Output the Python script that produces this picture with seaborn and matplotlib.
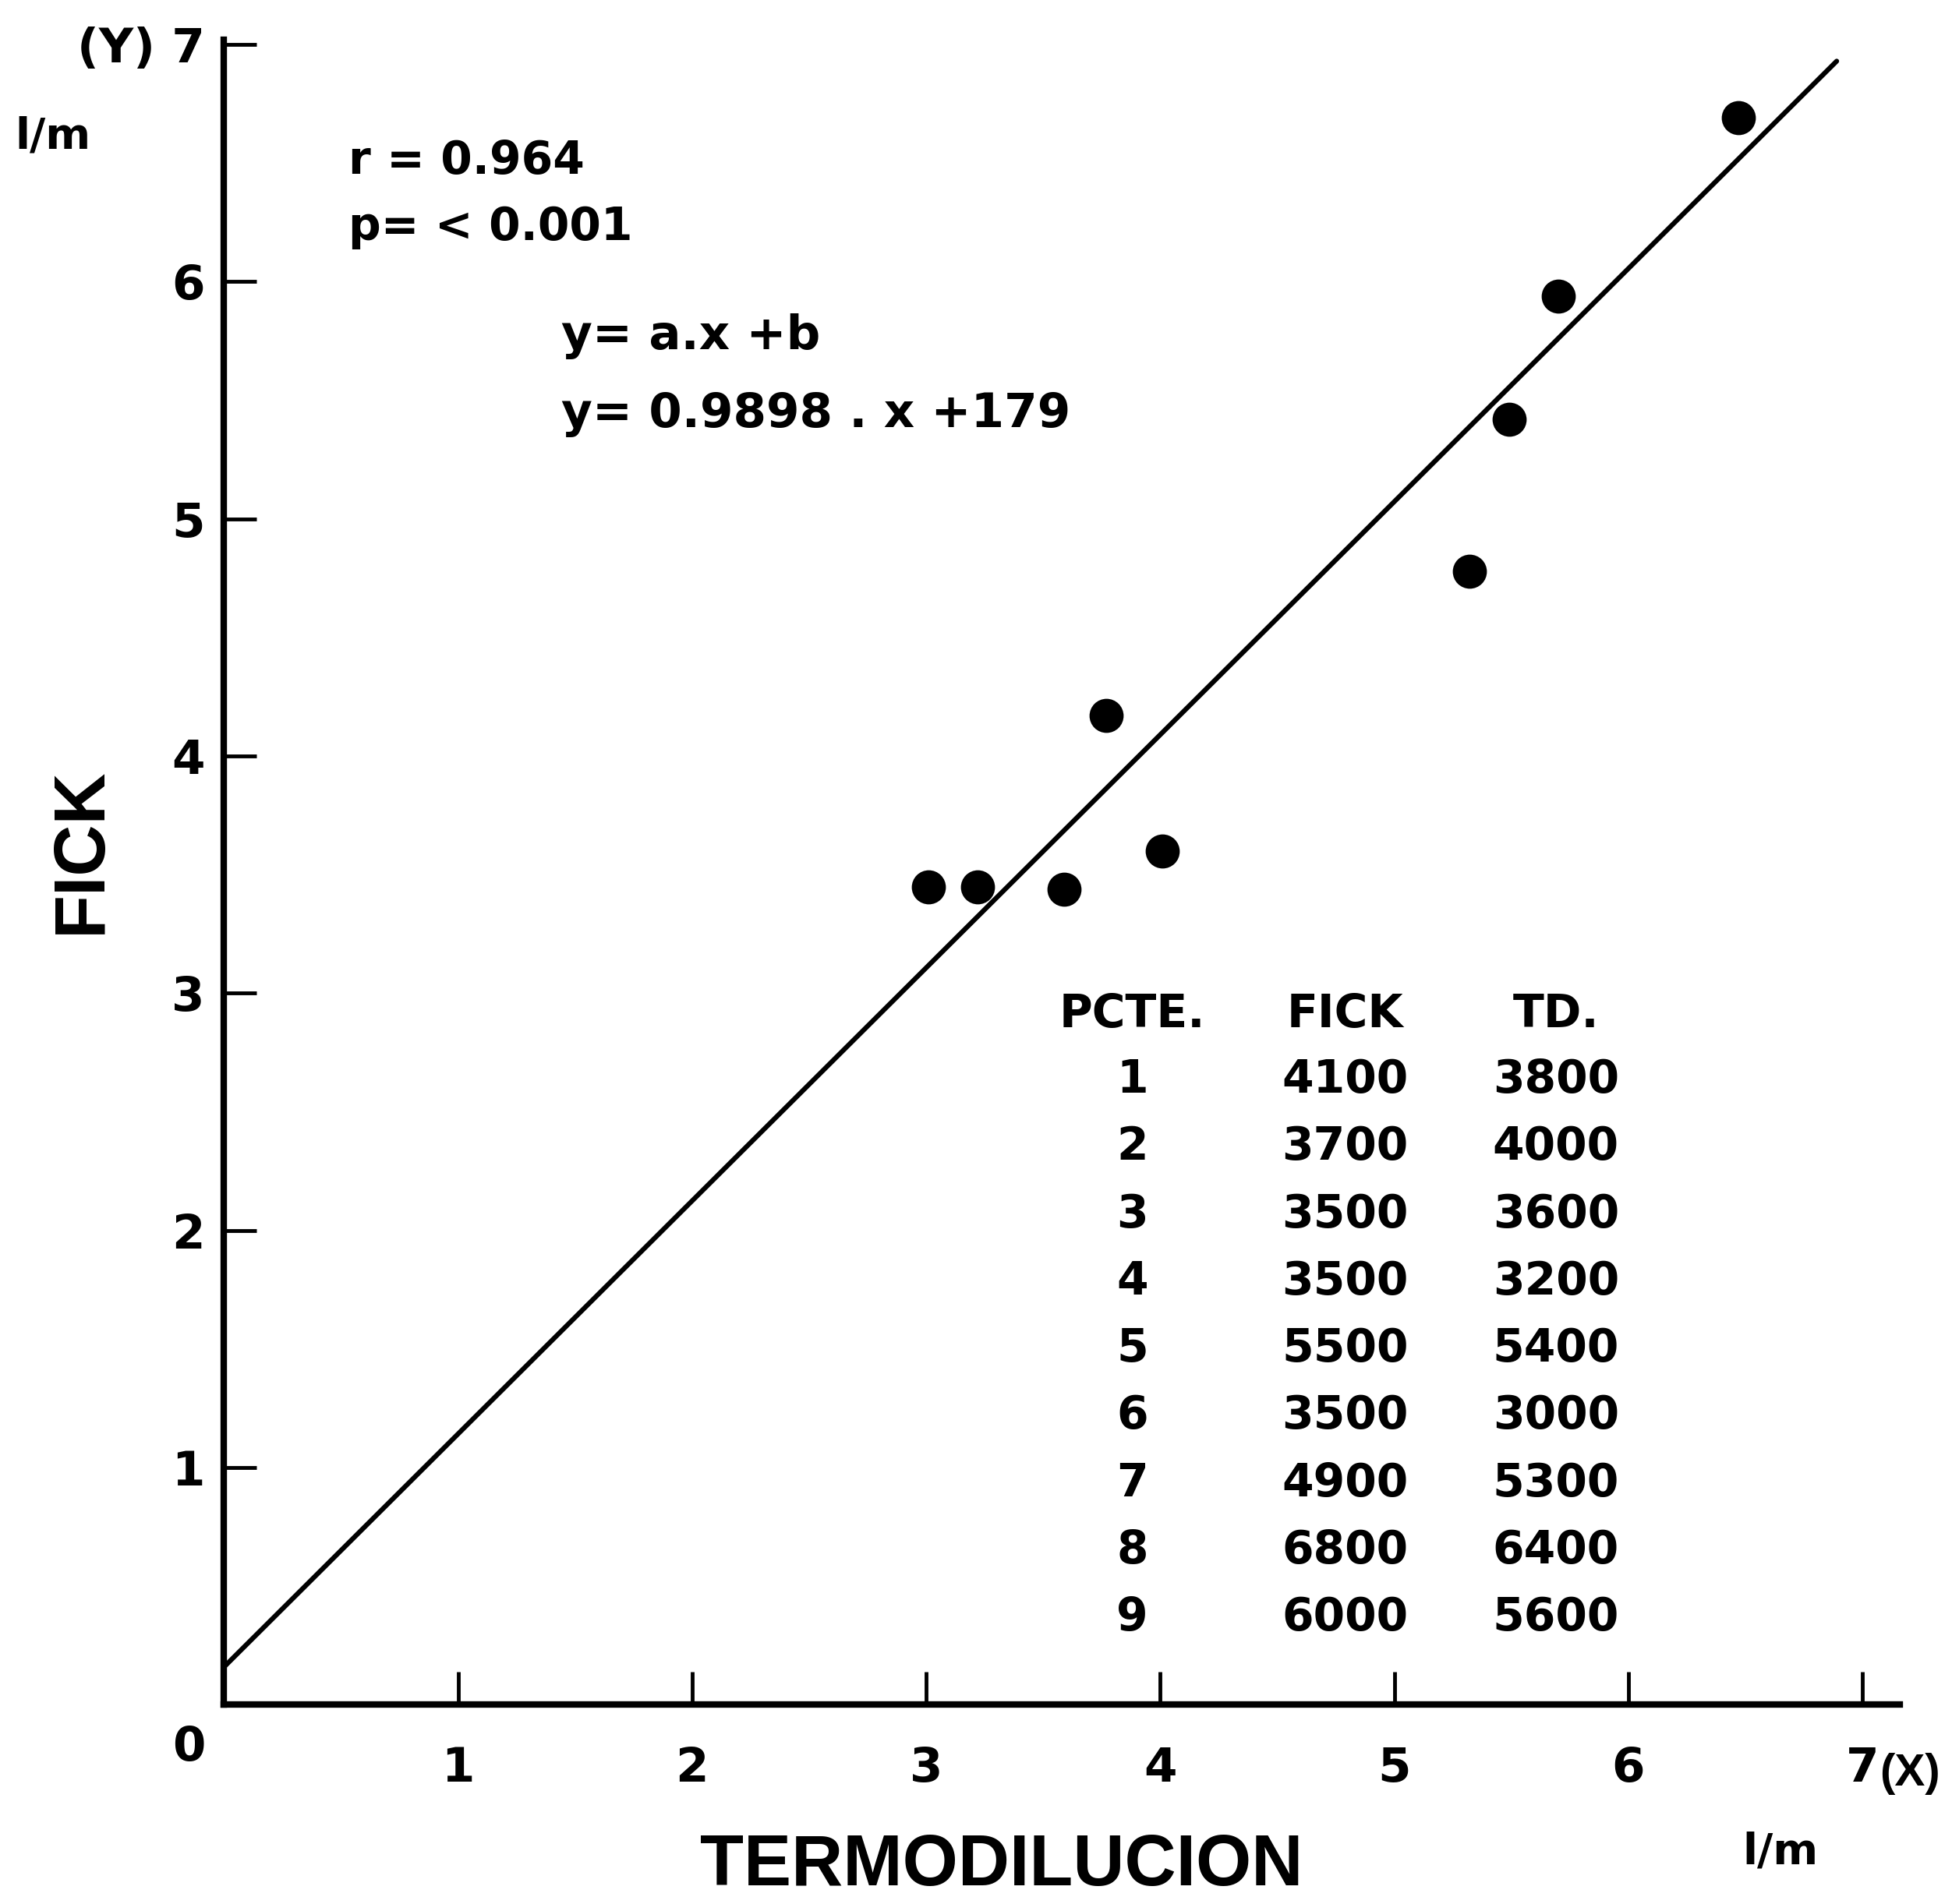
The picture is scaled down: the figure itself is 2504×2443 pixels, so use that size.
import matplotlib
matplotlib.use("Agg")
import seaborn as sns
import matplotlib.pyplot as plt

# table printed on the chart
pcte = [1, 2, 3, 4, 5, 6, 7, 8, 9]
fick = [4100, 3700, 3500, 3500, 5500, 3500, 4900, 6800, 6000]
td = [3800, 4000, 3600, 3200, 5400, 3000, 5300, 6400, 5600]

# points (l/m)
td_pts = [3.01, 3.22, 3.59, 3.77, 4.01, 5.32, 5.49, 5.70, 6.47]
fick_pts = [3.45, 3.45, 3.44, 4.17, 3.60, 4.78, 5.42, 5.94, 6.69]

# regression line end points
fit_x = [0.0, 6.89]
fit_y = [0.16, 6.93]

ticks = [1, 2, 3, 4, 5, 6, 7]
ytick_labels = ['1', '2', '3', '4', '5', '6', '(Y) 7']

sns.set_style("ticks")
plt.rcParams['font.family'] = ['DejaVu Sans']
plt.rcParams.update({
    'text.color': 'black',
    'axes.labelcolor': 'black',
    'axes.edgecolor': 'black',
    'xtick.color': 'black',
    'ytick.color': 'black',
})

fig = plt.figure(figsize=(25.04, 24.43), dpi=100)
ax = fig.add_axes([0.1148, 0.1046, 0.8585, 0.8745])

sns.lineplot(x=fit_x, y=fit_y, color='black', linewidth=4.5, ax=ax)
sns.scatterplot(x=td_pts, y=fick_pts, s=850, color='black',
                edgecolor='black', ax=ax, zorder=3)

ax.set_xlim(0, 7.16)
ax.set_ylim(0, 7.02)
sns.despine(ax=ax)
for sp in ['left', 'bottom']:
    ax.spines[sp].set_linewidth(6)

ax.set_xticks(ticks)
ax.set_xticklabels([str(t) for t in ticks])
ax.set_yticks(ticks)
ax.set_yticklabels(ytick_labels)
ax.tick_params(direction='in', length=30, width=3.5, labelsize=44)
ax.tick_params(axis='x', pad=38)
ax.tick_params(axis='y', pad=18)
for lbl in ax.get_xticklabels() + ax.get_yticklabels():
    lbl.set_fontweight('bold')

ax.text(-0.15, -0.18, '0', fontsize=44, fontweight='bold',
        ha='center', va='center', clip_on=False)
ax.text(7.075, -0.29, '(X)', fontsize=42, fontweight='bold',
        family='Liberation Sans', ha='left', va='center', clip_on=False)
ax.text(-0.73, 6.61, 'l/m', fontsize=40, fontweight='bold',
        ha='center', va='center', clip_on=False)
ax.text(6.65, -0.62, 'l/m', fontsize=40, fontweight='bold',
        ha='center', va='center', clip_on=False)

ax.set_ylabel('FICK', fontsize=66, fontweight='bold', family='Liberation Sans')
ax.yaxis.set_label_coords(-0.065, 0.513)
ax.set_xlabel('TERMODILUCION', fontsize=66, fontweight='bold',
              family='Liberation Sans', va='center')
ax.xaxis.set_label_coords(0.464, -0.097)

# stats text
ax.text(0.53, 6.51, 'r = 0.964', fontsize=42, fontweight='bold', va='center')
ax.text(0.53, 6.23, 'p= < 0.001', fontsize=42, fontweight='bold', va='center')
ax.text(1.44, 5.77, 'y= a.x +b', fontsize=44, fontweight='bold', va='center')
ax.text(1.44, 5.44, 'y= 0.9898 . x +179', fontsize=44, fontweight='bold', va='center')

# data table
col_x = [3.88, 4.79, 5.69]
ax.text(col_x[0], 2.91, 'PCTE.', fontsize=42, fontweight='bold', ha='center', va='center')
ax.text(col_x[1], 2.91, 'FICK', fontsize=42, fontweight='bold', ha='center', va='center')
ax.text(col_x[2], 2.91, 'TD.', fontsize=42, fontweight='bold', ha='center', va='center')
for i in range(len(pcte)):
    row_y = 2.635 - i * 0.2835
    ax.text(col_x[0], row_y, str(pcte[i]), fontsize=42, fontweight='bold', ha='center', va='center')
    ax.text(col_x[1], row_y, str(fick[i]), fontsize=42, fontweight='bold', ha='center', va='center')
    ax.text(col_x[2], row_y, str(td[i]), fontsize=42, fontweight='bold', ha='center', va='center')

fig.savefig('out.png', dpi=100)
